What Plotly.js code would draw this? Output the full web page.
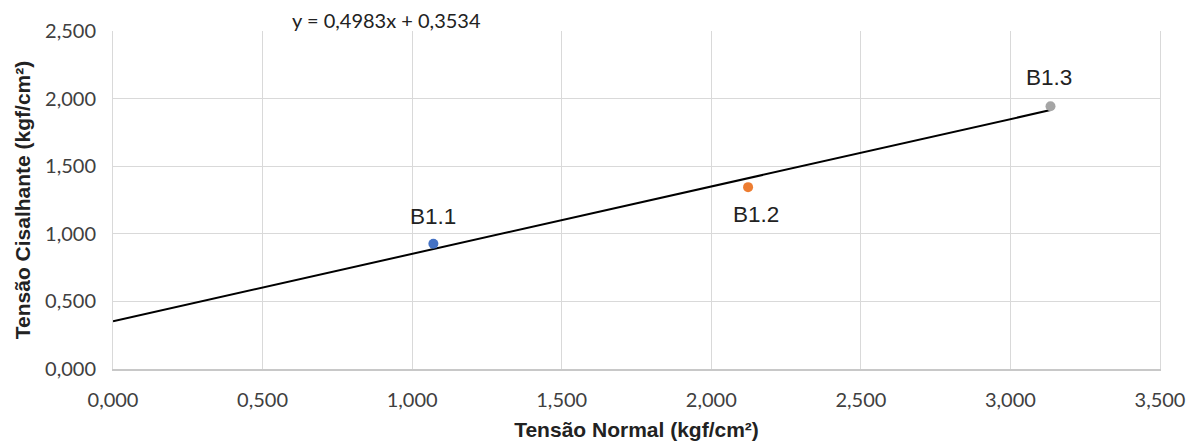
<!DOCTYPE html>
<html><head><meta charset="utf-8">
<script src="https://cdn.plot.ly/plotly-3.0.1.min.js"></script>
<style>html,body{margin:0;padding:0;background:#fff}#chart{width:1194px;height:445px}</style>
</head><body><div id="chart"></div>
<script>
const names = ["B1.1", "B1.2", "B1.3"];
const normal = [1.071, 2.123, 3.134];
const shear = [0.926, 1.345, 1.944];
const colors = ["#4472C4", "#ED7D31", "#A5A5A5"];
const labelShiftY = [27, -27, 29];
const labelShiftX = [0, 8, -2];
const slope = 0.4983;
const intercept = 0.3534;

const traces = names.map((n, i) => ({
  x: [normal[i]], y: [shear[i]], type: "scatter", mode: "markers",
  marker: {color: colors[i], size: 10}, showlegend: false, cliponaxis: false
}));
const xEnd = Math.max(...normal);
traces.unshift({
  x: [0, xEnd], y: [intercept, slope * xEnd + intercept], type: "scatter", mode: "lines",
  line: {color: "#000", width: 2}, showlegend: false
});

const labelAnn = names.map((n, i) => ({
  x: normal[i], y: shear[i], xref: "x", yref: "y", text: n, showarrow: false,
  xanchor: "center", yanchor: "middle", yshift: labelShiftY[i], xshift: labelShiftX[i],
  font: {family: "Liberation Sans, Arial", size: 22.5, color: "#222"}
}));

const tickFont = {family: "Lato, Open Sans", size: 20, color: "#404040"};
const titleFont = {family: "Liberation Sans, Arial", size: 21, color: "#222"};
const layout = {
  width: 1194, height: 445,
  margin: {l: 113, r: 34, t: 31, b: 76},
  paper_bgcolor: "#fff", plot_bgcolor: "#fff",
  separators: ",.",
  xaxis: {range: [0, 3.5], dtick: 0.5, tick0: 0, tickformat: ".3f", showgrid: true,
    gridcolor: "#d9d9d9", gridwidth: 1, zeroline: false, showline: true, linecolor: "#c8c8c8", linewidth: 1.5,
    mirror: false, ticks: "", tickfont: tickFont, ticklabelstandoff: 12,
    title: {text: "<b>Tensão Normal (kgf/cm²)</b>", font: titleFont, standoff: 13}},
  yaxis: {range: [0, 2.5], dtick: 0.5, tick0: 0, tickformat: ".3f", showgrid: true,
    gridcolor: "#d9d9d9", gridwidth: 1, zeroline: false, showline: true, linecolor: "#d9d9d9",
    mirror: true, ticks: "", tickfont: tickFont, ticklabelstandoff: 12,
    title: {text: "<b>Tensão Cisalhante (kgf/cm²)</b>", font: titleFont, standoff: 8}},
  annotations: labelAnn.concat([{
    text: "y = " + String(slope).replace(".", ",") + "x + " + String(intercept).replace(".", ","),
    xref: "paper", yref: "paper", x: 0.261, y: 1.032, xanchor: "center", yanchor: "middle",
    showarrow: false, font: {family: "Lato, Open Sans", size: 20, color: "#222"}
  }])
};
Plotly.newPlot("chart", traces, layout, {displayModeBar: false, staticPlot: true});
</script></body></html>
